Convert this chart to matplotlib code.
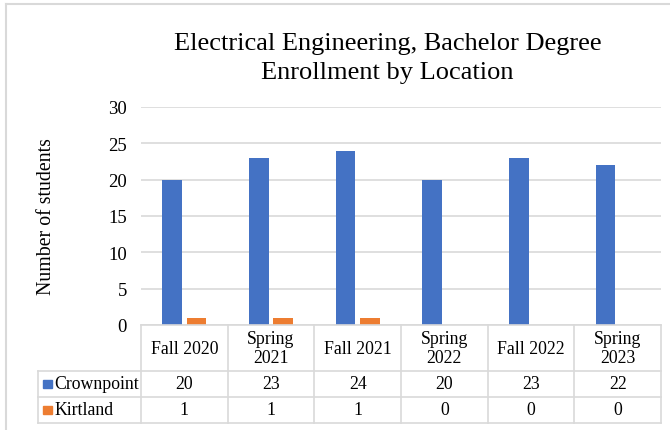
import matplotlib.pyplot as plt
from matplotlib.patches import Rectangle
from matplotlib.lines import Line2D

plt.rcParams['font.family'] = ['Liberation Serif', 'DejaVu Serif']

terms = ['Fall 2020', 'Spring\n2021', 'Fall 2021', 'Spring\n2022', 'Fall 2022', 'Spring\n2023']
crownpoint = [20, 23, 24, 20, 23, 22]
kirtland = [1, 1, 1, 0, 0, 0]
series_names = ['Crownpoint', 'Kirtland']
colors = ['#4472C4', '#ED7D31']
yticks = [0, 5, 10, 15, 20, 25, 30]

W, H = 670, 431
fig = plt.figure(figsize=(W / 100, H / 100), dpi=100)

def fx(px):
    return px / W

def fy(py):
    return 1 - py / H

# plot area
x0, x1, ytop, ybot = 141, 661, 108, 326
ax = fig.add_axes([fx(x0), fy(ybot), fx(x1 - x0), fy(ytop) - fy(ybot)])
n = len(terms)
xs = list(range(n))
bw = 0.225
off = 0.14
ax.bar([x - off for x in xs], crownpoint, width=bw, color=colors[0])
ax.bar([x + off for x in xs], kirtland, width=bw, color=colors[1])
ax.set_xlim(-0.5, n - 0.5)
ax.set_ylim(0, 30)
ax.set_yticks(yticks)
ax.set_xticks([])
ax.yaxis.grid(True, color='#d9d9d9', linewidth=1.2)
ax.set_axisbelow(True)
for s in ax.spines.values():
    s.set_visible(False)
ax.tick_params(axis='y', length=0, pad=10, labelsize=13.5)
ax.set_ylabel('Number of students', fontsize=14.3, labelpad=38)

ax.set_title('Electrical Engineering, Bachelor Degree\nEnrollment by Location',
             fontsize=19, linespacing=1.4, pad=21, x=0.474)

# data table under the plot
lx = 38
tb_bottom = 424
tab = fig.add_axes([fx(lx), fy(tb_bottom), fx(x1 - lx), fy(ybot) - fy(tb_bottom)])
colw = (x1 - x0) / n
left_units = (x0 - lx) / colw
tab.set_xlim(-0.5 - left_units, n - 0.5)
tab.set_ylim(tb_bottom - ybot, 0)
tab.axis('off')
gc = '#d9d9d9'
r1, r2, r3 = 46, 72, 98

def hline(x_a, x_b, y):
    tab.add_line(Line2D([x_a, x_b], [y, y], color=gc, lw=1.2, clip_on=False))

def vline(x, y_a, y_b):
    tab.add_line(Line2D([x, x], [y_a, y_b], color=gc, lw=1.2, clip_on=False))

hline(-0.5, n - 0.5, 0)
for y in (r1, r2, r3):
    hline(-0.5 - left_units, n - 0.5, y)
for i in range(n + 1):
    vline(i - 0.5, 0, r3)
vline(-0.5 - left_units, r1, r3)

for i, t in enumerate(terms):
    tab.text(i, r1 / 2, t, ha='center', va='center', fontsize=12.8, linespacing=1.15)
    tab.text(i, (r1 + r2) / 2, str(crownpoint[i]), ha='center', va='center', fontsize=12.8)
    tab.text(i, (r2 + r3) / 2, str(kirtland[i]), ha='center', va='center', fontsize=12.8)

sq = 8.5 / colw
for name, c, (ya, yb) in zip(series_names, colors, [(r1, r2), (r2, r3)]):
    yc = (ya + yb) / 2
    sx = -0.5 - left_units + 5 / colw
    tab.add_patch(Rectangle((sx, yc - 4.25), sq, 8.5, color=c, clip_on=False))
    tab.text(sx + sq + 2.5 / colw, yc, name, ha='left', va='center', fontsize=12.8)

# chart frame
fig.add_artist(Line2D([fx(6), fx(6)], [fy(5), 0], color=gc, lw=1.5))
fig.add_artist(Line2D([fx(6), 1], [fy(5), fy(5)], color=gc, lw=1.5))

fig.savefig('out.png', dpi=100)
